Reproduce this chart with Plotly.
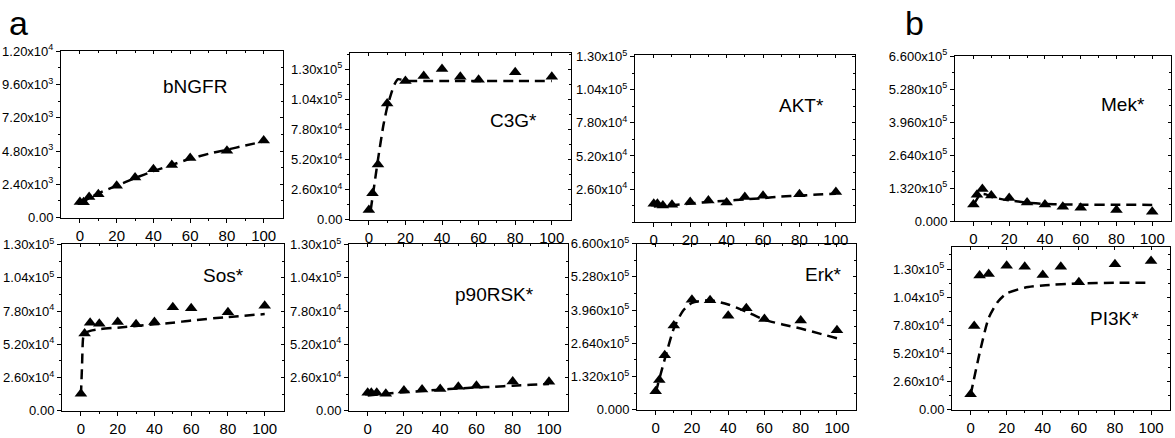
import plotly.graph_objects as go

# ---------------- data ----------------
x_obs = [0, 2, 5, 10, 20, 30, 40, 50, 60, 80, 100]

bngfr_obs = [1130, 1100, 1480, 1690, 2290, 2890, 3490, 3790, 4300, 4830, 5570]
bngfr_fit_x = [0, 5, 10, 20, 30, 40, 50, 60, 70, 80, 90, 100]
bngfr_fit = [1000, 1400, 1750, 2300, 2850, 3350, 3800, 4250, 4600, 4900, 5200, 5500]

c3g_obs = [8300, 22700, 47700, 100500, 120000, 124200, 130300, 123600, 121100, 127500, 123600]
c3g_fit_x = [1, 3, 5, 8, 10, 12, 14, 16, 18, 20, 30, 40, 60, 80, 100]
c3g_fit = [8000, 30000, 52000, 82000, 97000, 108000, 117000, 121500, 121000, 120000, 120000, 120000, 120000, 120000, 120000]

akt_obs = [14500, 14500, 13300, 13800, 16000, 17200, 15500, 19800, 20800, 22000, 23800]
akt_fit_x = [0, 10, 20, 30, 40, 50, 60, 70, 80, 90, 100]
akt_fit = [12500, 13500, 14800, 16000, 17000, 18000, 19000, 20200, 21000, 21800, 22500]

mek_obs = [67900, 106300, 129300, 103600, 93300, 75600, 67900, 58700, 54900, 46000, 38400]
mek_fit_x = [0, 3, 5, 7, 10, 15, 20, 30, 40, 50, 60, 80, 100]
mek_fit = [65000, 100000, 110000, 108000, 98000, 90000, 84000, 75000, 70000, 68000, 67000, 66500, 66000]

sos_obs = [13400, 60500, 68800, 68000, 69500, 67600, 69500, 80900, 80100, 77100, 82200]
sos_fit_x = [0, 0.6, 1.2, 2, 5, 10, 20, 40, 50, 60, 80, 100]
sos_fit = [12000, 35000, 57000, 60500, 62500, 63800, 65000, 67600, 68800, 70600, 73300, 75600]

p90_obs = [14100, 14100, 14100, 13300, 15800, 16600, 17100, 18800, 19600, 22900, 22600]
p90_fit_x = [0, 10, 20, 30, 40, 50, 60, 70, 80, 90, 100]
p90_fit = [12000, 13300, 14500, 15500, 16500, 17400, 18300, 18800, 19600, 20300, 21000]

erk_obs = [74100, 118500, 216700, 335100, 437200, 434500, 373400, 402800, 360700, 354300, 316000]
erk_fit_x = [0, 5, 10, 15, 20, 30, 40, 50, 60, 70, 80, 90, 100]
erk_fit = [67600, 201000, 322500, 392500, 424200, 434500, 418000, 389800, 357000, 339000, 322500, 303400, 284300]

pi3k_obs = [14450, 77400, 124100, 125500, 133000, 132100, 124600, 132100, 117900, 134400, 137400]
pi3k_fit_x = [0, 5, 10, 15, 20, 30, 40, 60, 80, 100]
pi3k_fit = [13800, 52300, 84700, 99600, 107500, 112800, 114900, 116700, 117300, 117300]

x_ticks = [0, 20, 40, 60, 80, 100]
x_minor_ticks = [10, 30, 50, 70, 90]
x_ticklabels = ["0", "20", "40", "60", "80", "100"]

ticks_12k = [0, 2400, 4800, 7200, 9600, 12000]
labels_12k = ["0.00", "2.40x10<sup>3</sup>", "4.80x10<sup>3</sup>", "7.20x10<sup>3</sup>",
              "9.60x10<sup>3</sup>", "1.20x10<sup>4</sup>"]
ticks_130k = [0, 26000, 52000, 78000, 104000, 130000]
labels_130k = ["0.00", "2.60x10<sup>4</sup>", "5.20x10<sup>4</sup>", "7.80x10<sup>4</sup>",
               "1.04x10<sup>5</sup>", "1.30x10<sup>5</sup>"]
ticks_660k = [0, 132000, 264000, 396000, 528000, 660000]
labels_660k = ["0.000", "1.320x10<sup>5</sup>", "2.640x10<sup>5</sup>", "3.960x10<sup>5</sup>",
               "5.280x10<sup>5</sup>", "6.600x10<sup>5</sup>"]

panel_names = ["bNGFR", "C3G*", "AKT*", "Mek*", "Sos*", "p90RSK*", "Erk*", "PI3K*"]

# ---------------- layout helpers ----------------
W, H = 1175, 438
FONT = "Liberation Sans, Arial, sans-serif"
XR = [-10.3, 110.5]

def px_x(p):
    return p / W

def px_y(p):
    return 1 - p / H

panels = [
    # obs, fit_x, fit, yrange, tickvals, ticktext, minor, box (l, r, top, bottom), label pos
    (bngfr_obs, bngfr_fit_x, bngfr_fit, [0, 12000], ticks_12k, labels_12k, 1200, (61, 283, 44, 217), (194.5, 80.5)),
    (c3g_obs, c3g_fit_x, c3g_fit, [0, 144000], ticks_130k, labels_130k, 13000, (350, 571, 46, 219), (513, 116.5)),
    (akt_obs, akt_fit_x, akt_fit, [0, 131000], ticks_130k[1:], labels_130k[1:], 13000, (635, 855, 48, 222), (801, 100)),
    (mek_obs, mek_fit_x, mek_fit, [0, 660000], ticks_660k, labels_660k, 66000, (955, 1171, 49, 221), (1123, 99)),
    (sos_obs, sos_fit_x, sos_fit, [0, 130000], ticks_130k, labels_130k, 13000, (62, 284, 245, 418), (223, 277.5)),
    (p90_obs, p90_fit_x, p90_fit, [0, 130000], ticks_130k, labels_130k, 13000, (349, 568, 245, 418), (494, 297)),
    (erk_obs, erk_fit_x, erk_fit, [0, 660000], ticks_660k, labels_660k, 66000, (637, 856, 244, 417), (823.5, 276)),
    (pi3k_obs, pi3k_fit_x, pi3k_fit, [0, 150000], ticks_130k, labels_130k, 13000, (952, 1170, 248, 417), (1114.5, 322)),
]

fig = go.Figure()
layout = dict(
    width=W, height=H,
    margin=dict(l=0, r=0, t=0, b=0),
    paper_bgcolor="white", plot_bgcolor="white",
    showlegend=False,
    font=dict(family=FONT, color="black"),
)
annotations = []
NP = len(panels)

for i, (obs, fx, fy, yr, tv, tt, minor_dt, box, lab) in enumerate(panels):
    n = i + 1
    m = n + NP  # overlay axes for inward mirrored ticks
    xa = "x" if n == 1 else f"x{n}"
    ya = "y" if n == 1 else f"y{n}"
    xkey = "xaxis" if n == 1 else f"xaxis{n}"
    ykey = "yaxis" if n == 1 else f"yaxis{n}"
    l, r, t, b = box

    fig.add_trace(go.Scatter(
        x=fx, y=fy, xaxis=xa, yaxis=ya, mode="lines",
        line=dict(color="black", width=2.5, dash="10px,6px", shape="spline", smoothing=0.6),
        hoverinfo="skip"))
    fig.add_trace(go.Scatter(
        x=x_obs, y=obs, xaxis=xa, yaxis=ya, mode="markers",
        marker=dict(symbol="triangle-up", size=11, color="black"),
        hoverinfo="skip"))
    # empty trace on the overlay axes so they are drawn
    fig.add_trace(go.Scatter(x=[None], y=[None], xaxis=f"x{m}", yaxis=f"y{m}",
                             mode="markers", hoverinfo="skip"))

    layout[xkey] = dict(
        domain=[px_x(l), px_x(r)], anchor=ya, range=XR,
        tickvals=x_ticks, ticktext=x_ticklabels,
        ticks="outside", ticklen=4, tickwidth=1, tickcolor="black",
        minor=dict(tickvals=x_minor_ticks, ticks="outside", ticklen=2.5, tickcolor="black"),
        showline=True, linecolor="black", linewidth=1, mirror=True,
        showgrid=False, zeroline=False,
        tickfont=dict(family=FONT, size=15, color="black"),
    )
    layout[ykey] = dict(
        domain=[px_y(b), px_y(t)], anchor=xa, range=yr,
        tickvals=tv, ticktext=tt,
        ticks="outside", ticklen=4, tickwidth=1, tickcolor="black",
        minor=dict(dtick=minor_dt, tick0=0, ticks="outside", ticklen=2.5, tickcolor="black"),
        showline=True, linecolor="black", linewidth=1, mirror=True,
        showgrid=False, zeroline=False,
        tickfont=dict(family=FONT, size=13, color="black"),
    )
    layout[f"xaxis{m}"] = dict(
        overlaying=xa, side="top", anchor=f"y{m}", range=XR,
        tickvals=x_ticks, showticklabels=False,
        ticks="inside", ticklen=3, tickcolor="black",
        minor=dict(tickvals=x_minor_ticks, ticks="inside", ticklen=2, tickcolor="black"),
        showline=False, showgrid=False, zeroline=False,
    )
    layout[f"yaxis{m}"] = dict(
        overlaying=ya, side="right", anchor=f"x{m}", range=yr,
        tickvals=tv, showticklabels=False,
        ticks="inside", ticklen=3, tickcolor="black",
        minor=dict(dtick=minor_dt, tick0=0, ticks="inside", ticklen=2, tickcolor="black"),
        showline=False, showgrid=False, zeroline=False,
    )
    annotations.append(dict(
        text=panel_names[i], xref="paper", yref="paper",
        x=px_x(lab[0]), y=px_y(lab[1]), xanchor="center", yanchor="middle",
        showarrow=False, font=dict(family=FONT, size=19, color="black")))

annotations.append(dict(text="a", xref="paper", yref="paper", x=px_x(18), y=px_y(14.5),
                        xanchor="center", yanchor="middle", showarrow=False,
                        font=dict(family=FONT, size=34, color="black")))
annotations.append(dict(text="b", xref="paper", yref="paper", x=px_x(914), y=px_y(15),
                        xanchor="center", yanchor="middle", showarrow=False,
                        font=dict(family=FONT, size=34, color="black")))
layout["annotations"] = annotations

fig.update_layout(**layout)
fig.write_html("out.html")
